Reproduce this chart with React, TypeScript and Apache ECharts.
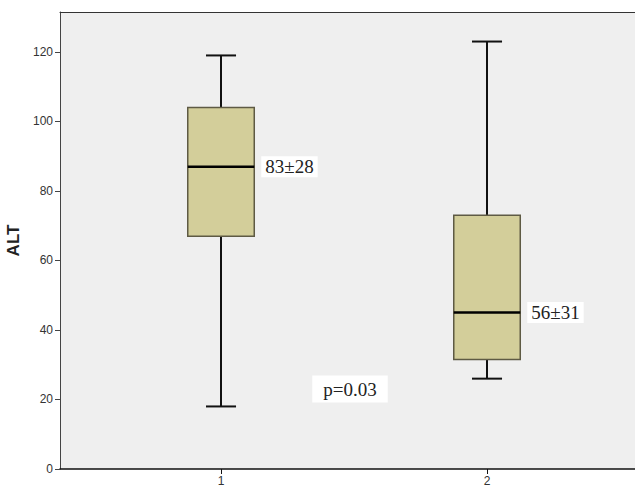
import React, { useEffect, useRef } from "react";
import * as echarts from "echarts";

// group positions on the x axis
const groups = [1, 2];
// [min, Q1, median, Q3, max]
const boxStats = [
  [18, 67, 87, 104, 119],
  [26, 31.5, 45, 73, 123],
];
const boxLabels = ["83±28", "56±31"];
const yTicks = [0, 20, 40, 60, 80, 100, 120];
// p-value annotation [x, y, text]
const pValue = { x: 1.485, y: 23, text: "p=0.03" };

export default function App() {
  const ref = useRef<HTMLDivElement>(null);
  useEffect(() => {
    if (!ref.current) return;
    const chart = echarts.init(ref.current, null, { renderer: "svg" });
    const data = groups.map((g, i) => [g, ...boxStats[i], i]);
    const serif = "'Liberation Serif', 'Times New Roman', serif";
    const xMin = 0.3947;
    const xMax = xMin + 575 / 266;
    const option: any = {
      animation: false,
      grid: {
        left: 60,
        top: 12,
        right: 0,
        bottom: 18,
        outerBoundsMode: "none",
        show: true,
        backgroundColor: "#EFEFEF",
        borderWidth: 0,
      },
      xAxis: [
        {
          type: "value",
          min: xMin,
          max: xMax,
          splitLine: { show: false },
          axisLine: { show: true, onZero: false, lineStyle: { color: "#111", width: 1.5 } },
          axisTick: { show: true, length: 5, customValues: groups, lineStyle: { color: "#111" } },
          axisLabel: {
            customValues: groups,
            color: "#333",
            fontFamily: "'Liberation Sans', Arial, sans-serif",
            fontSize: 12,
            margin: 6,
          },
        },
        {
          type: "value",
          position: "top",
          min: xMin,
          max: xMax,
          splitLine: { show: false },
          axisLine: { show: true, onZero: false, lineStyle: { color: "#333", width: 1 } },
          axisTick: { show: false },
          axisLabel: { show: false },
        },
      ],
      yAxis: {
        type: "value",
        min: 0,
        max: 131.5,
        interval: 20,
        name: "ALT",
        nameLocation: "middle",
        nameGap: 29,
        nameTextStyle: {
          fontFamily: "'Liberation Sans', Arial, sans-serif",
          fontWeight: "bold",
          fontSize: 17,
          color: "#222",
        },
        splitLine: { show: false },
        axisLine: { show: true, lineStyle: { color: "#444", width: 1 } },
        axisTick: { show: true, length: 5, lineStyle: { color: "#444" } },
        axisLabel: {
          showMaxLabel: false,
          color: "#333",
          fontFamily: "'Liberation Sans', Arial, sans-serif",
          fontSize: 12,
          margin: 7,
          formatter: (v: number) => (yTicks.includes(v) ? String(v) : ""),
        },
      },
      series: [
        {
          type: "custom",
          xAxisIndex: 0,
          data,
          renderItem: (params: any, api: any) => {
            const x = api.value(0);
            const mn = api.coord([x, api.value(1)]);
            const q1 = api.coord([x, api.value(2)]);
            const md = api.coord([x, api.value(3)]);
            const q3 = api.coord([x, api.value(4)]);
            const mx = api.coord([x, api.value(5)]);
            const idx = api.value(6);
            const bw = api.size([0.25, 0])[0];
            const cw = api.size([0.113, 0])[0];
            const cx = mn[0];
            const lineStyle = { stroke: "#111", lineWidth: 2 };
            return {
              type: "group",
              children: [
                { type: "line", shape: { x1: cx, y1: mx[1], x2: cx, y2: q3[1] }, style: lineStyle },
                { type: "line", shape: { x1: cx, y1: q1[1], x2: cx, y2: mn[1] }, style: lineStyle },
                { type: "line", shape: { x1: cx - cw / 2, y1: mx[1], x2: cx + cw / 2, y2: mx[1] }, style: lineStyle },
                { type: "line", shape: { x1: cx - cw / 2, y1: mn[1], x2: cx + cw / 2, y2: mn[1] }, style: lineStyle },
                {
                  type: "rect",
                  shape: { x: cx - bw / 2, y: q3[1], width: bw, height: q1[1] - q3[1] },
                  style: { fill: "#D3CE9A", stroke: "#5E5A44", lineWidth: 1.5 },
                },
                {
                  type: "line",
                  shape: { x1: cx - bw / 2, y1: md[1], x2: cx + bw / 2, y2: md[1] },
                  style: { stroke: "#000", lineWidth: 2.5 },
                },
                {
                  type: "text",
                  x: cx + bw / 2 + 7,
                  y: md[1],
                  style: {
                    text: boxLabels[idx],
                    fontFamily: serif,
                    fontSize: 19,
                    fill: "#222",
                    align: "left",
                    verticalAlign: "middle",
                    backgroundColor: "#fff",
                    padding: [1, 4],
                  },
                },
              ],
            };
          },
        },
        {
          type: "custom",
          xAxisIndex: 0,
          data: [[pValue.x, pValue.y]],
          renderItem: (params: any, api: any) => {
            const p = api.coord([api.value(0), api.value(1)]);
            return {
              type: "text",
              x: p[0],
              y: p[1],
              style: {
                text: pValue.text,
                fontFamily: serif,
                fontSize: 19,
                fill: "#222",
                align: "center",
                verticalAlign: "middle",
                backgroundColor: "#fff",
                padding: [4, 11],
              },
            };
          },
        },
      ],
    };
    chart.setOption(option);
    return () => chart.dispose();
  }, []);
  return (
    <div
      ref={ref}
      style={{ position: "fixed", left: 0, top: 0, width: 635, height: 487, background: "#fff" }}
    />
  );
}
